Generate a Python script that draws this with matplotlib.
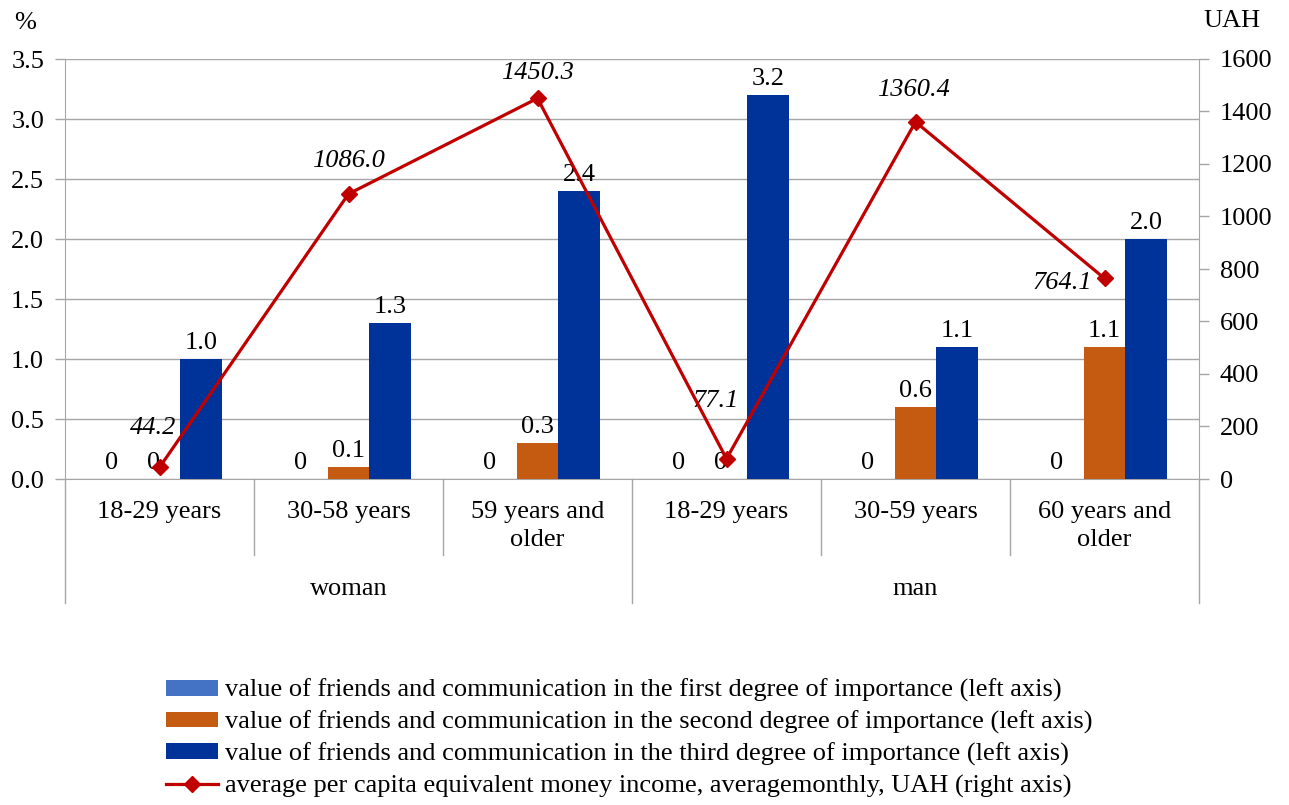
import numpy as np
import matplotlib.pyplot as plt
import matplotlib.transforms as mtransforms

plt.rcParams['font.family'] = ['Liberation Serif', 'DejaVu Serif']

# data
age_groups = ['18-29 years', '30-58 years', '59 years and\nolder',
              '18-29 years', '30-59 years', '60 years and\nolder']
sexes = ['woman', 'man']
first_degree = [0, 0, 0, 0, 0, 0]
second_degree = [0, 0.1, 0.3, 0, 0.6, 1.1]
third_degree = [1.0, 1.3, 2.4, 3.2, 1.1, 2.0]
income = [44.2, 1086.0, 1450.3, 77.1, 1360.4, 764.1]

series_names = [
    'value of friends and communication in the first degree of importance (left axis)',
    'value of friends and communication in the second degree of importance (left axis)',
    'value of friends and communication in the third degree of importance (left axis)',
    'average per capita equivalent money income, averagemonthly, UAH (right axis)',
]
colors = ['#4472C4', '#C55A11', '#003399']
line_color = '#C00000'
grid_color = '#A6A6A6'
fs = 19

# offsets (pixels) of the income labels from their markers
income_label_offsets = [(-6, 39), (0, 33), (0, 25), (-11, 58), (-2, 32), (-42, -5)]

fig = plt.figure(figsize=(12.89, 8.05), dpi=100)
ax = fig.add_axes([65 / 1289, 1 - 479 / 805, (1199 - 65) / 1289, 420 / 805])
ax2 = ax.twinx()

x = np.arange(len(age_groups))
w = 0.222
bars = []
for i, (vals, c) in enumerate(zip([first_degree, second_degree, third_degree], colors)):
    b = ax.bar(x + (i - 1) * w, vals, width=w, color=c, zorder=3, label=series_names[i])
    bars.append(b)
    for xi, v in zip(x + (i - 1) * w, vals):
        txt = '0' if v == 0 else f'{v:.1f}'
        shift = -6 if v == 0 else 0
        ax.annotate(txt, (xi, v), xytext=(shift, 5), textcoords='offset pixels',
                    ha='center', va='bottom', fontsize=fs, zorder=5)

line, = ax2.plot(x, income, color=line_color, lw=2.3, marker='D', markersize=8,
                 zorder=4, label=series_names[3])
for xi, v, (dx, dy) in zip(x, income, income_label_offsets):
    ax2.annotate(f'{v:.1f}', (xi, v), xytext=(dx, dy), textcoords='offset pixels',
                 ha='center', va='center', fontsize=fs, style='italic')

ax.set_xlim(-0.5, len(age_groups) - 0.5)
ax.set_ylim(0, 3.5)
ax.set_yticks(np.arange(0, 3.51, 0.5))
ax.set_yticklabels([f'{t:.1f}' for t in np.arange(0, 3.51, 0.5)])
ax2.set_ylim(0, 1600)
ax2.set_yticks(range(0, 1601, 200))

ax.grid(axis='y', color=grid_color, lw=1, zorder=0)
ax.set_axisbelow(True)
ax.set_xticks([])
for a in (ax, ax2):
    a.spines['top'].set_visible(False)
    for s in ('left', 'right', 'bottom'):
        a.spines[s].set_color(grid_color)
    a.tick_params(axis='y', colors=grid_color, labelcolor='black', labelsize=fs,
                  length=7, width=1, pad=8)
ax2.spines['left'].set_visible(False)
ax.spines['right'].set_visible(False)
ax2.spines['bottom'].set_visible(False)

# two-level category axis
trans = mtransforms.blended_transform_factory(ax.transData, ax.transAxes)
inner_bottom = -(555 - 479) / 420
outer_bottom = -(603 - 479) / 420
for k in range(len(age_groups) + 1):
    edge = k - 0.5
    y_end = outer_bottom if k % 3 == 0 else inner_bottom
    ax.plot([edge, edge], [0, y_end], transform=trans, color=grid_color, lw=1,
            clip_on=False)
for xi, lab in zip(x, age_groups):
    ax.text(xi, -22 / 420, lab, transform=trans, ha='center', va='top',
            fontsize=fs, linespacing=1.35)
for j, s in enumerate(sexes):
    ax.text(j * 3 + 1, -(589 - 479) / 420, s, transform=trans, ha='center',
            va='center', fontsize=fs)

fig.text(25 / 1289, 1 - 23 / 805, '%', fontsize=fs, ha='center', va='center')
fig.text(1232 / 1289, 1 - 21 / 805, 'UAH', fontsize=fs, ha='center', va='center')

fig.legend(handles=bars + [line], labels=series_names, loc='upper left',
           bbox_to_anchor=(166 / 1289, 1 - 679 / 805), frameon=False,
           fontsize=fs, handlelength=1.97, handleheight=0.55, handletextpad=0.25,
           labelspacing=0.32, borderaxespad=0, borderpad=0)

fig.savefig('out.png', dpi=100)
